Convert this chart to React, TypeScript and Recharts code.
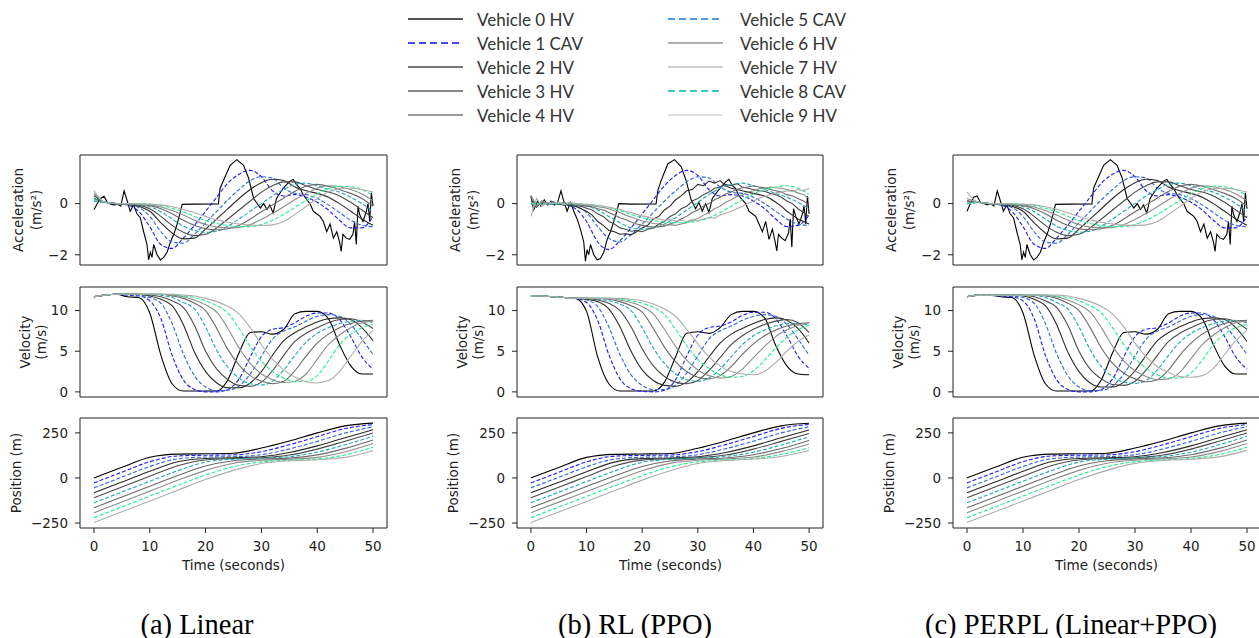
import React from "react";
import { LineChart, Line, XAxis, YAxis, ReferenceArea } from "recharts";

// time grids (seconds)
const T1 = [0, 1, 2, 3, 4, 5, 6, 7, 8, 9, 10, 11, 12, 13, 14, 15, 16, 17, 18, 19, 20, 21, 22, 23, 24, 25, 26, 27, 28, 29, 30, 31, 32, 33, 34, 35, 36, 37, 38, 39, 40, 41, 42, 43, 44, 45, 46, 47, 48, 49, 50];
const T2 = [0, 2, 4, 6, 8, 10, 12, 14, 16, 18, 20, 22, 24, 26, 28, 30, 32, 34, 36, 38, 40, 42, 44, 46, 48, 50];
const T5 = [0, 5, 10, 15, 20, 25, 30, 35, 40, 45, 50];

const VEHICLES = [
  "Vehicle 0 HV", "Vehicle 1 CAV", "Vehicle 2 HV", "Vehicle 3 HV", "Vehicle 4 HV",
  "Vehicle 5 CAV", "Vehicle 6 HV", "Vehicle 7 HV", "Vehicle 8 CAV", "Vehicle 9 HV",
];
const LEGEND_COLORS = ["#555", "#4747ff", "#777", "#888", "#999", "#4a9be0", "#b0b0b0", "#cfcfcf", "#3cc6c0", "#e0e0e0"];
const LEGEND_DASHED = [false, true, false, false, false, true, false, false, true, false];

// colours as they appear inside the plots
const PLOT_COLORS = ["#000000", "#1a1aff", "#2f66dd", "#2a2a2a", "#4a4a4a", "#19a8b0", "#6a6a6a", "#8c8c8c", "#22ee8c", "#adadad"];
const PLOT_DASHED = [false, true, true, false, false, true, false, false, true, false];

const CAPTIONS = ["(a) Linear", "(b) RL (PPO)", "(c) PERPL (Linear+PPO)"];

// ---- (a) Linear ----
const linearLeadAcc: [number, number][] = [
  [0, -0.24], [0.6, 0.0], [1.2, 0.2], [1.8, 0.29], [2.4, 0.05], [3, -0.02], [3.6, -0.05], [4.2, -0.03], [4.8, -0.1],
  [5.4, 0.5], [5.9, 0.15], [6.5, -0.3], [7.1, -0.05], [7.7, -0.4], [8.3, -0.55], [8.9, -1.1], [9.5, -1.6], [9.8, -2.2],
  [10.1, -1.9], [10.4, -2.1], [10.7, -1.6], [11.3, -2.0], [11.9, -2.2], [12.5, -2.1], [13.1, -1.9], [13.7, -1.5],
  [14.3, -1.2], [14.9, -0.8], [15.5, -0.3], [15.8, -0.03], [18, -0.02], [22.3, -0.01], [22.6, 0.6], [23.2, 0.9],
  [24.4, 1.5], [25.6, 1.72], [26.8, 1.5], [27.7, 1.0], [28.6, 0.2], [29.8, -0.17], [30.4, 0.0], [31, -0.23],
  [31.5, -0.05], [32.1, -0.37], [32.7, 0.2], [33.9, 0.6], [35.1, 0.88], [35.7, 0.94], [36.3, 0.74], [36.9, 0.6],
  [37.5, 0.35], [38.1, 0.16], [38.7, 0.0], [39.3, -0.3], [40.5, -0.5], [41.1, -0.7], [41.7, -1.1], [42.3, -0.8],
  [42.9, -1.35], [43.5, -1.1], [44, -1.5], [44.3, -1.87], [44.6, -1.2], [45.2, -1.35], [45.8, -1.4], [46.4, -1.2],
  [46.7, -0.7], [47, -1.6], [47.3, -0.1], [47.6, -0.43], [48.2, -0.7], [48.8, -0.3], [49.1, 0.0], [49.4, -0.7],
  [49.7, 0.42], [50, -0.1],
];
const linearAcc = [
  [0.1, 0.05, 0.0, -0.05, -0.3, -0.9, -1.6, -1.75, -1.35, -0.85, -0.3, 0.25, 0.8, 1.15, 1.3, 1.05, 0.5, 0.3, 0.35, 0.25, 0.05, -0.25, -0.65, -0.95, -0.95, -0.5],
  [0.1, 0.05, 0.0, -0.05, -0.15, -0.5, -1.1, -1.5, -1.55, -1.2, -0.75, -0.3, 0.15, 0.55, 0.9, 1.05, 1.0, 0.6, 0.4, 0.35, 0.2, -0.05, -0.35, -0.65, -0.85, -0.9],
  [0.2, 0.05, 0.0, -0.03, -0.1, -0.3, -0.75, -1.15, -1.38, -1.35, -1.0, -0.6, -0.2, 0.2, 0.55, 0.82, 0.95, 0.9, 0.65, 0.5, 0.4, 0.25, 0.0, -0.3, -0.6, -0.85],
  [0.3, 0.05, 0.0, -0.02, -0.06, -0.2, -0.5, -0.85, -1.12, -1.25, -1.2, -0.95, -0.6, -0.25, 0.1, 0.45, 0.7, 0.85, 0.85, 0.7, 0.55, 0.45, 0.3, 0.05, -0.25, -0.55],
  [0.2, 0.05, 0.0, -0.02, -0.04, -0.12, -0.32, -0.6, -0.88, -1.05, -1.12, -1.08, -0.88, -0.6, -0.3, 0.0, 0.3, 0.55, 0.75, 0.8, 0.7, 0.55, 0.45, 0.25, 0.0, -0.3],
  [0.35, 0.05, 0.0, -0.01, -0.03, -0.08, -0.2, -0.4, -0.65, -0.85, -0.98, -1.02, -0.98, -0.85, -0.6, -0.32, -0.05, 0.22, 0.48, 0.68, 0.75, 0.68, 0.55, 0.4, 0.2, -0.1],
  [0.4, 0.05, 0.0, -0.01, -0.02, -0.05, -0.13, -0.27, -0.45, -0.65, -0.82, -0.92, -0.95, -0.93, -0.82, -0.62, -0.38, -0.12, 0.15, 0.4, 0.6, 0.7, 0.66, 0.55, 0.38, 0.12],
  [0.1, 0.05, 0.0, 0.0, -0.01, -0.03, -0.08, -0.18, -0.32, -0.5, -0.66, -0.78, -0.86, -0.9, -0.9, -0.82, -0.65, -0.42, -0.15, 0.12, 0.38, 0.58, 0.68, 0.66, 0.55, 0.32],
  [0.5, 0.05, 0.0, 0.0, -0.01, -0.02, -0.05, -0.12, -0.22, -0.36, -0.5, -0.63, -0.73, -0.8, -0.84, -0.85, -0.83, -0.7, -0.42, -0.12, 0.2, 0.45, 0.58, 0.6, 0.55, 0.45],
];
const linearVel = [
  [11.7, 11.9, 12.0, 11.7, 11.6, 9.7, 4.5, 1.0, 0.1, 0.1, 0.1, 0.1, 1.5, 4.8, 7.3, 7.4, 7.1, 7.7, 9.6, 9.9, 9.9, 9.0, 5.8, 3.2, 2.2, 2.2],
  [11.7, 11.9, 12.0, 11.9, 11.8, 11.2, 9.0, 4.5, 1.5, 0.3, 0.0, 0.0, 0.3, 1.6, 4.3, 6.8, 7.7, 7.9, 8.5, 9.3, 9.7, 9.7, 8.9, 6.8, 4.3, 2.8],
  [11.7, 11.9, 12.0, 12.0, 11.9, 11.6, 10.9, 8.4, 4.7, 2.0, 0.6, 0.15, 0.2, 0.7, 2.2, 4.4, 6.5, 7.5, 8.0, 8.7, 9.3, 9.5, 9.3, 8.3, 6.5, 4.6],
  [11.7, 11.9, 12.0, 12.0, 12.0, 11.8, 11.4, 10.6, 8.3, 4.9, 2.5, 1.1, 0.5, 0.5, 1.1, 2.5, 4.5, 6.3, 7.3, 8.0, 8.6, 9.0, 9.1, 8.9, 7.9, 6.3],
  [11.7, 11.9, 12.0, 12.0, 12.0, 11.9, 11.7, 11.2, 10.4, 8.2, 5.0, 2.8, 1.5, 0.8, 0.7, 1.2, 2.6, 4.5, 6.2, 7.2, 7.9, 8.5, 8.9, 9.0, 8.6, 7.8],
  [11.7, 11.9, 12.0, 12.0, 12.0, 12.0, 11.9, 11.6, 11.0, 10.2, 8.0, 5.1, 3.0, 1.7, 1.0, 0.85, 1.3, 2.7, 4.5, 6.1, 7.2, 7.9, 8.4, 8.7, 8.8, 8.5],
  [11.7, 11.9, 12.0, 12.0, 12.0, 12.0, 12.0, 11.8, 11.5, 10.9, 10.0, 7.8, 5.2, 3.3, 2.0, 1.3, 1.0, 1.3, 2.6, 4.4, 6.0, 7.1, 7.9, 8.4, 8.7, 8.8],
  [11.7, 11.9, 12.0, 12.0, 12.0, 12.0, 12.0, 11.9, 11.7, 11.3, 10.7, 9.8, 7.8, 5.4, 3.5, 2.2, 1.5, 1.15, 1.3, 2.2, 4.0, 5.8, 7.0, 7.9, 8.5, 8.7],
  [11.7, 11.9, 12.0, 12.0, 12.0, 12.0, 12.0, 12.0, 11.8, 11.6, 11.2, 10.6, 9.7, 7.8, 5.6, 3.8, 2.5, 1.7, 1.25, 1.3, 2.0, 3.8, 5.8, 7.1, 7.9, 8.3],
  [11.7, 11.9, 12.0, 12.0, 12.0, 12.0, 12.0, 12.0, 11.9, 11.8, 11.5, 11.1, 10.5, 9.6, 7.9, 5.8, 4.0, 2.7, 1.8, 1.25, 1.1, 1.4, 2.5, 4.4, 6.2, 7.6],
];
const linearPos = [
  [0, 59, 115, 132, 134, 137, 166, 205, 250, 289, 304],
  [-27.5, 32, 90, 122, 126, 128, 146, 184, 229, 274, 296],
  [-55, 4.5, 64, 106, 116, 118, 129, 161, 203, 249, 284],
  [-82.5, -23, 37, 90, 108, 112, 118, 141, 178, 223, 267],
  [-110, -50.5, 9.5, 68, 100, 108, 112, 127, 160, 204, 249],
  [-137.5, -78, -18, 40, 88, 104, 110, 118, 143, 184, 231],
  [-165, -105.5, -45.5, 13.5, 66, 95, 105, 110, 128, 164, 211],
  [-192.5, -133, -73, -13, 42, 82, 98, 104, 114, 145, 191],
  [-220, -160.5, -100.5, -41, 16, 63, 89, 98, 105, 128, 170],
  [-247.5, -188, -128, -68, -9, 42, 80, 95, 101, 114, 151],
];

// ---- (b) RL (PPO) ----
const ppoLeadAcc: [number, number][] = [
  [0, 0.3], [0.5, -0.25], [1.2, 0.1], [1.8, -0.1], [2.4, 0.15], [3, -0.05], [3.6, 0.1], [4.2, -0.05], [4.8, 0.05],
  [5.4, 0.5], [5.9, 0.1], [6.5, -0.3], [7.1, 0.05], [7.7, -0.3], [8.3, -0.6], [8.9, -1.0], [9.5, -1.5], [9.8, -2.25],
  [10.1, -1.8], [10.4, -2.0], [10.7, -1.6], [11.3, -2.0], [11.9, -2.2], [12.5, -2.15], [13.1, -1.9], [13.7, -1.4],
  [14.3, -1.1], [14.9, -0.7], [15.5, -0.25], [15.8, 0.0], [18, -0.02], [22.5, -0.01], [22.8, 0.5], [23.4, 0.9],
  [24.6, 1.55], [25.8, 1.72], [27, 1.45], [27.9, 0.9], [28.8, 0.15], [29.6, -0.2], [30.2, 0.05], [30.8, -0.3],
  [31.4, 0.0], [32, -0.35], [32.6, 0.2], [33.8, 0.55], [35, 0.85], [35.6, 0.95], [36.2, 0.7], [36.8, 0.6],
  [37.4, 0.3], [38, 0.15], [38.6, 0.0], [39.2, -0.3], [40.4, -0.5], [41, -0.8], [41.6, -1.1], [42.2, -0.7],
  [42.8, -1.4], [43.4, -1.0], [43.9, -1.5], [44.2, -1.85], [44.5, -1.2], [45.1, -1.35], [45.7, -1.45], [46.3, -1.15],
  [46.6, -0.6], [46.9, -1.7], [47.2, -0.2], [47.6, -0.5], [48.2, -0.8], [48.8, -0.4], [49.1, -0.1], [49.4, -0.8],
  [49.7, 0.3], [50, -0.4],
];
// CAV vehicles 1, 2, 5, 8 on the 2 s grid
const ppoAccCav = [
  [0.0, 0.0, -0.02, -0.05, -0.2, -0.7, -1.5, -1.8, -1.45, -0.95, -0.4, 0.15, 0.7, 1.1, 1.3, 1.1, 0.55, 0.3, 0.35, 0.3, 0.1, -0.2, -0.6, -0.9, -0.85, -0.45],
  [0.0, 0.0, -0.02, -0.04, -0.1, -0.35, -0.9, -1.35, -1.5, -1.2, -0.8, -0.35, 0.1, 0.5, 0.85, 1.05, 1.0, 0.65, 0.45, 0.4, 0.25, 0.0, -0.3, -0.6, -0.8, -0.85],
  [0.0, 0.0, 0.0, -0.02, -0.05, -0.1, -0.25, -0.5, -0.75, -0.95, -1.0, -0.95, -0.8, -0.55, -0.25, 0.05, 0.35, 0.6, 0.75, 0.8, 0.7, 0.55, 0.4, 0.25, 0.05, -0.2],
  [0.0, 0.0, 0.0, 0.0, -0.01, -0.03, -0.07, -0.15, -0.28, -0.42, -0.55, -0.66, -0.72, -0.75, -0.74, -0.68, -0.55, -0.35, -0.1, 0.15, 0.38, 0.55, 0.65, 0.7, 0.6, 0.35],
];
// HV vehicles 3, 4, 6, 7, 9 on the 1 s grid (noisier)
const ppoAccHv = [
  [0.3, -0.1, 0.05, -0.05, 0.08, -0.04, 0.02, -0.08, -0.1, -0.2, -0.3, -0.45, -0.7, -0.85, -1.05, -1.1, -1.2, -1.18, -1.22, -1.1, -0.95, -0.85, -0.6, -0.5, -0.25, -0.1, 0.15, 0.3, 0.5, 0.55, 0.75, 0.7, 0.88, 0.8, 0.9, 0.7, 0.6, 0.55, 0.5, 0.45, 0.4, 0.35, 0.3, 0.2, 0.05, -0.1, -0.3, -0.45, -0.6, -0.7, -0.8],
  [0.2, -0.15, 0.1, -0.05, 0.05, 0.0, -0.06, 0.04, -0.08, -0.1, -0.18, -0.25, -0.4, -0.5, -0.7, -0.8, -0.95, -1.0, -1.08, -1.05, -1.1, -1.0, -0.95, -0.8, -0.7, -0.5, -0.4, -0.2, -0.1, 0.1, 0.2, 0.35, 0.45, 0.6, 0.65, 0.75, 0.7, 0.78, 0.65, 0.6, 0.55, 0.5, 0.48, 0.4, 0.35, 0.25, 0.1, 0.0, -0.2, -0.35, -0.5],
  [0.1, -0.1, 0.05, 0.0, 0.08, -0.03, 0.05, -0.05, 0.0, -0.06, -0.1, -0.12, -0.2, -0.25, -0.35, -0.45, -0.55, -0.62, -0.72, -0.8, -0.85, -0.9, -0.92, -0.9, -0.88, -0.8, -0.72, -0.6, -0.5, -0.35, -0.25, -0.1, 0.0, 0.15, 0.25, 0.38, 0.45, 0.55, 0.62, 0.65, 0.7, 0.65, 0.62, 0.55, 0.5, 0.45, 0.35, 0.3, 0.2, 0.1, -0.05],
  [0.3, -0.1, 0.1, -0.05, 0.05, 0.02, -0.04, 0.06, -0.03, -0.02, -0.06, -0.08, -0.12, -0.15, -0.2, -0.28, -0.35, -0.45, -0.52, -0.6, -0.68, -0.72, -0.78, -0.8, -0.85, -0.82, -0.85, -0.8, -0.75, -0.65, -0.58, -0.45, -0.35, -0.2, -0.1, 0.05, 0.15, 0.28, 0.35, 0.45, 0.5, 0.58, 0.6, 0.65, 0.62, 0.6, 0.55, 0.5, 0.42, 0.35, 0.2],
  [-0.5, 0.2, -0.1, 0.05, 0.0, 0.06, -0.03, 0.04, 0.0, -0.02, -0.03, -0.05, -0.08, -0.1, -0.14, -0.18, -0.22, -0.3, -0.35, -0.42, -0.48, -0.52, -0.58, -0.6, -0.65, -0.62, -0.68, -0.65, -0.7, -0.62, -0.68, -0.6, -0.55, -0.58, -0.45, -0.38, -0.3, -0.2, -0.1, 0.0, 0.1, 0.2, 0.28, 0.35, 0.42, 0.45, 0.5, 0.48, 0.55, 0.5, 0.6],
];
const ppoVel = [
  [11.8, 11.8, 11.7, 11.6, 11.5, 9.9, 4.3, 1.0, 0.1, 0.1, 0.1, 0.1, 1.2, 4.3, 7.2, 7.4, 7.2, 7.9, 9.5, 9.9, 9.9, 9.1, 5.7, 3.2, 2.2, 2.1],
  [11.8, 11.8, 11.7, 11.6, 11.5, 11.0, 8.8, 4.6, 1.6, 0.4, 0.05, 0.0, 0.2, 1.5, 4.4, 7.0, 7.9, 8.1, 8.6, 9.4, 9.8, 9.8, 9.0, 6.9, 4.4, 2.9],
  [11.8, 11.8, 11.7, 11.6, 11.5, 11.3, 10.5, 8.0, 4.6, 2.1, 0.8, 0.3, 0.3, 0.8, 2.3, 4.4, 6.5, 7.5, 8.1, 8.8, 9.3, 9.5, 9.3, 8.3, 6.5, 4.5],
  [11.8, 11.8, 11.7, 11.6, 11.5, 11.4, 11.1, 10.2, 8.0, 5.0, 2.7, 1.4, 0.8, 0.7, 1.2, 2.5, 4.3, 6.0, 7.1, 7.8, 8.4, 8.9, 9.1, 8.8, 7.8, 6.0],
  [11.8, 11.8, 11.7, 11.6, 11.5, 11.5, 11.3, 10.9, 10.0, 8.0, 5.3, 3.2, 1.9, 1.2, 1.0, 1.4, 2.6, 4.2, 5.8, 6.9, 7.7, 8.3, 8.7, 8.9, 8.5, 7.3],
  [11.8, 11.8, 11.7, 11.6, 11.5, 11.5, 11.4, 11.2, 10.8, 10.0, 7.9, 5.4, 3.5, 2.2, 1.5, 1.3, 1.7, 2.8, 4.3, 5.8, 6.9, 7.6, 8.1, 8.4, 8.4, 8.2],
  [11.8, 11.8, 11.7, 11.6, 11.5, 11.5, 11.5, 11.4, 11.1, 10.6, 9.8, 7.8, 5.5, 3.7, 2.5, 1.8, 1.6, 2.0, 3.1, 4.6, 5.9, 6.9, 7.6, 8.1, 8.4, 8.5],
  [11.8, 11.8, 11.7, 11.6, 11.5, 11.5, 11.5, 11.5, 11.3, 11.0, 10.5, 9.6, 7.7, 5.6, 3.9, 2.7, 2.0, 1.7, 1.9, 2.8, 4.2, 5.6, 6.8, 7.6, 8.2, 8.5],
  [11.8, 11.8, 11.7, 11.6, 11.5, 11.5, 11.5, 11.5, 11.4, 11.2, 10.9, 10.4, 9.5, 7.7, 5.7, 4.0, 2.9, 2.1, 1.8, 1.9, 2.6, 3.9, 5.4, 6.7, 7.6, 8.2],
  [11.8, 11.8, 11.7, 11.6, 11.5, 11.5, 11.5, 11.5, 11.5, 11.4, 11.2, 10.8, 10.2, 9.3, 7.7, 5.9, 4.3, 3.2, 2.5, 2.2, 2.1, 2.5, 3.6, 5.0, 6.2, 7.0],
];
const ppoPos = [
  [0, 58, 114, 131, 133, 136, 165, 205, 250, 289, 303],
  [-27.5, 31, 89, 121, 125, 127, 146, 185, 230, 275, 297],
  [-55, 3.5, 62, 104, 115, 117, 129, 162, 204, 250, 284],
  [-82.5, -24, 35, 88, 107, 111, 118, 141, 178, 223, 266],
  [-110, -51.5, 7.5, 66, 99, 107, 112, 127, 160, 203, 247],
  [-137.5, -79, -20, 38, 87, 103, 110, 119, 143, 183, 228],
  [-165, -106.5, -47.5, 11, 64, 94, 105, 111, 129, 163, 208],
  [-192.5, -134, -75, -16, 40, 81, 98, 105, 116, 146, 188],
  [-220, -161.5, -102.5, -44, 13, 61, 89, 100, 108, 130, 168],
  [-247.5, -189, -130, -71, -12, 40, 80, 97, 105, 119, 152],
];

// ---- (c) PERPL (Linear+PPO) ----
const perplLeadAcc: [number, number][] = [
  [0, -0.3], [0.6, 0.0], [1.2, 0.25], [1.8, 0.3], [2.4, 0.05], [3, 0.0], [3.6, -0.05], [4.2, 0.0], [4.8, -0.1],
  [5.4, 0.5], [5.9, 0.15], [6.5, -0.3], [7.1, -0.05], [7.7, -0.4], [8.3, -0.55], [8.9, -1.1], [9.5, -1.6], [9.8, -2.2],
  [10.1, -1.9], [10.4, -2.1], [10.7, -1.6], [11.3, -2.0], [11.9, -2.2], [12.5, -2.1], [13.1, -1.9], [13.7, -1.5],
  [14.3, -1.2], [14.9, -0.8], [15.5, -0.3], [15.8, -0.03], [18, -0.02], [22.3, -0.01], [22.6, 0.6], [23.2, 0.9],
  [24.4, 1.5], [25.6, 1.72], [26.8, 1.5], [27.7, 1.0], [28.6, 0.2], [29.8, -0.17], [30.4, 0.0], [31, -0.23],
  [31.5, -0.05], [32.1, -0.37], [32.7, 0.2], [33.9, 0.6], [35.1, 0.88], [35.7, 0.94], [36.3, 0.74], [36.9, 0.6],
  [37.5, 0.35], [38.1, 0.16], [38.7, 0.0], [39.3, -0.3], [40.5, -0.5], [41.1, -0.7], [41.7, -1.1], [42.3, -0.8],
  [42.9, -1.35], [43.5, -1.1], [44, -1.5], [44.3, -1.87], [44.6, -1.2], [45.2, -1.35], [45.8, -1.4], [46.4, -1.2],
  [46.7, -0.7], [47, -1.6], [47.3, -0.1], [47.6, -0.43], [48.2, -0.7], [48.8, -0.3], [49.1, 0.0], [49.4, -0.7],
  [49.7, 0.42], [50, -0.2],
];
const perplAcc = [
  [0.0, 0.05, 0.0, -0.05, -0.3, -0.9, -1.6, -1.75, -1.35, -0.85, -0.3, 0.25, 0.8, 1.15, 1.3, 1.05, 0.5, 0.3, 0.35, 0.25, 0.05, -0.25, -0.65, -0.95, -0.95, -0.5],
  [0.0, 0.05, 0.0, -0.05, -0.15, -0.5, -1.1, -1.5, -1.55, -1.2, -0.75, -0.3, 0.15, 0.55, 0.9, 1.05, 1.0, 0.6, 0.4, 0.35, 0.2, -0.05, -0.35, -0.65, -0.85, -0.9],
  [0.1, 0.05, 0.0, -0.03, -0.1, -0.3, -0.75, -1.15, -1.38, -1.35, -1.0, -0.6, -0.2, 0.2, 0.55, 0.82, 0.95, 0.9, 0.65, 0.5, 0.4, 0.25, 0.0, -0.3, -0.6, -0.85],
  [0.1, 0.05, 0.0, -0.02, -0.06, -0.2, -0.5, -0.85, -1.12, -1.25, -1.2, -0.95, -0.6, -0.25, 0.1, 0.45, 0.7, 0.85, 0.85, 0.7, 0.55, 0.45, 0.3, 0.05, -0.25, -0.55],
  [0.0, 0.05, 0.0, -0.02, -0.04, -0.12, -0.32, -0.6, -0.88, -1.05, -1.12, -1.08, -0.88, -0.6, -0.3, 0.0, 0.3, 0.55, 0.75, 0.8, 0.7, 0.55, 0.45, 0.25, 0.0, -0.3],
  [0.1, 0.05, 0.0, -0.01, -0.03, -0.08, -0.2, -0.4, -0.65, -0.85, -0.98, -1.02, -0.98, -0.85, -0.6, -0.32, -0.05, 0.22, 0.48, 0.68, 0.75, 0.68, 0.55, 0.4, 0.2, -0.1],
  [0.2, 0.05, 0.0, -0.01, -0.02, -0.05, -0.13, -0.27, -0.45, -0.65, -0.82, -0.92, -0.95, -0.93, -0.82, -0.62, -0.38, -0.12, 0.15, 0.4, 0.6, 0.7, 0.66, 0.55, 0.38, 0.12],
  [0.0, 0.05, 0.0, 0.0, -0.01, -0.03, -0.08, -0.18, -0.32, -0.5, -0.66, -0.78, -0.86, -0.9, -0.9, -0.82, -0.65, -0.42, -0.15, 0.12, 0.38, 0.58, 0.68, 0.66, 0.55, 0.32],
  [0.45, 0.05, 0.0, 0.0, -0.01, -0.02, -0.05, -0.12, -0.22, -0.36, -0.5, -0.63, -0.73, -0.8, -0.84, -0.85, -0.83, -0.7, -0.42, -0.12, 0.2, 0.45, 0.58, 0.6, 0.55, 0.45],
];
const perplVel = [
  [11.7, 11.9, 11.9, 11.7, 11.6, 9.7, 4.5, 1.0, 0.1, 0.1, 0.1, 0.1, 1.5, 4.8, 7.3, 7.4, 7.1, 7.7, 9.6, 9.9, 9.9, 9.0, 5.8, 3.2, 2.2, 2.2],
  [11.7, 11.9, 11.9, 11.8, 11.7, 11.2, 9.0, 4.5, 1.5, 0.3, 0.0, 0.0, 0.3, 1.6, 4.3, 6.8, 7.7, 7.9, 8.5, 9.3, 9.7, 9.7, 8.9, 6.8, 4.3, 2.8],
  [11.7, 11.9, 11.9, 11.9, 11.8, 11.6, 10.9, 8.4, 4.7, 2.0, 0.6, 0.15, 0.2, 0.7, 2.2, 4.4, 6.5, 7.5, 8.0, 8.7, 9.3, 9.5, 9.3, 8.3, 6.5, 4.6],
  [11.7, 11.9, 11.9, 11.9, 11.9, 11.8, 11.4, 10.6, 8.3, 4.9, 2.5, 1.1, 0.6, 0.6, 1.2, 2.6, 4.5, 6.3, 7.3, 8.0, 8.6, 9.0, 9.1, 8.9, 7.9, 6.2],
  [11.7, 11.9, 11.9, 11.9, 11.9, 11.9, 11.7, 11.2, 10.4, 8.2, 5.0, 2.8, 1.6, 0.9, 0.8, 1.3, 2.7, 4.5, 6.2, 7.2, 7.9, 8.5, 8.9, 9.0, 8.6, 7.7],
  [11.7, 11.9, 11.9, 11.9, 11.9, 11.9, 11.9, 11.6, 11.0, 10.2, 8.0, 5.2, 3.1, 1.9, 1.2, 1.05, 1.4, 2.7, 4.5, 6.1, 7.2, 7.9, 8.4, 8.7, 8.8, 8.5],
  [11.7, 11.9, 11.9, 11.9, 11.9, 11.9, 11.9, 11.8, 11.5, 10.9, 10.0, 7.9, 5.4, 3.5, 2.3, 1.6, 1.25, 1.5, 2.7, 4.5, 6.0, 7.1, 7.9, 8.4, 8.7, 8.8],
  [11.7, 11.9, 11.9, 11.9, 11.9, 11.9, 11.9, 11.9, 11.7, 11.3, 10.7, 9.8, 7.9, 5.6, 3.8, 2.6, 1.9, 1.5, 1.6, 2.4, 4.1, 5.8, 7.0, 7.9, 8.5, 8.7],
  [11.7, 11.9, 11.9, 11.9, 11.9, 11.9, 11.9, 11.9, 11.8, 11.6, 11.2, 10.6, 9.7, 7.9, 5.8, 4.1, 2.9, 2.1, 1.7, 1.7, 2.3, 3.9, 5.8, 7.1, 7.9, 8.3],
  [11.7, 11.9, 11.9, 11.9, 11.9, 11.9, 11.9, 11.9, 11.9, 11.8, 11.5, 11.1, 10.5, 9.6, 8.0, 6.0, 4.3, 3.1, 2.4, 1.9, 1.8, 2.0, 2.9, 4.6, 6.3, 7.6],
];
const perplPos = [
  [0, 59, 115, 132, 134, 137, 166, 205, 250, 289, 304],
  [-27.5, 32, 90, 122, 126, 128, 146, 184, 229, 274, 296],
  [-55, 4.5, 64, 106, 116, 118, 129, 161, 203, 249, 284],
  [-82.5, -23, 37, 90, 108, 112, 118, 141, 178, 223, 267],
  [-110, -50.5, 9.5, 68, 100, 108, 112, 127, 160, 204, 249],
  [-137.5, -78, -18, 40, 88, 104, 111, 119, 143, 184, 231],
  [-165, -105.5, -45.5, 13.5, 66, 95, 106, 112, 129, 164, 211],
  [-192.5, -133, -73, -13, 42, 82, 99, 106, 116, 146, 191],
  [-220, -160.5, -100.5, -41, 16, 63, 90, 100, 108, 130, 170],
  [-247.5, -188, -128, -68, -9, 42, 81, 97, 104, 117, 153],
];

const ACC_DOMAIN = [-2.4, 1.9];
const VEL_DOMAIN = [-0.63, 12.9];
const POS_DOMAIN = [-277.5, 332.5];

const FONT = "DejaVu Sans, sans-serif";
const TICK_STYLE = { fontFamily: FONT, fontSize: 13.5, fill: "#222" };

const fmt = (v: number) => (v < 0 ? "\u2212" + Math.abs(v) : String(v));

type Pt = { t: number; y: number };
type Series = { pts: Pt[]; linear: boolean };

const pts = (times: number[], vals: number[]): Pt[] => vals.map((y, i) => ({ t: times[i], y }));
const pairs = (p: [number, number][]): Pt[] => p.map(([t, y]) => ({ t, y }));
const smooth = (times: number[], rows: number[][]): Series[] => rows.map((r) => ({ pts: pts(times, r), linear: false }));

function Subplot({
  left, top, width, series, domain, ticks, showTimeLabels,
}: {
  left: number; top: number; width: number; series: Series[]; domain: number[];
  ticks: number[]; showTimeLabels: boolean;
}) {
  return (
    <div style={{ position: "absolute", left: left - 80, top: top - 5 }}>
      <LineChart width={80 + width + 10} height={155} margin={{ top: 5, right: 10, left: 40, bottom: 0 }}>
        <XAxis
          type="number"
          dataKey="t"
          domain={[-2.5, 52.5]}
          ticks={[0, 10, 20, 30, 40, 50]}
          allowDataOverflow
          axisLine={false}
          tickLine={{ stroke: "#222" }}
          tickSize={5}
          tickMargin={8}
          tick={showTimeLabels ? TICK_STYLE : false}
          height={40}
        />
        <YAxis
          type="number"
          domain={domain}
          ticks={ticks}
          allowDataOverflow
          axisLine={false}
          tickLine={{ stroke: "#222" }}
          tickSize={5}
          tickMargin={7}
          tick={TICK_STYLE}
          tickFormatter={fmt}
          width={40}
        />
        {series.map((s, i) => (
          <Line
            key={i}
            data={s.pts}
            dataKey="y"
            type={s.linear ? "linear" : "monotone"}
            stroke={PLOT_COLORS[i]}
            strokeWidth={1.1}
            strokeDasharray={PLOT_DASHED[i] ? "4 2" : undefined}
            dot={false}
            isAnimationActive={false}
          />
        ))}
        <ReferenceArea x1={-2.5} x2={52.5} y1={domain[0]} y2={domain[1]} fill="none" fillOpacity={0} stroke="#222" strokeWidth={1} />
      </LineChart>
    </div>
  );
}

const linearAccSeries: Series[] = [{ pts: pairs(linearLeadAcc), linear: true }, ...smooth(T2, linearAcc)];
const perplAccSeries: Series[] = [{ pts: pairs(perplLeadAcc), linear: true }, ...smooth(T2, perplAcc)];
const hv = (i: number): Series => ({ pts: pts(T1, ppoAccHv[i]), linear: true });
const cav = (i: number): Series => ({ pts: pts(T2, ppoAccCav[i]), linear: false });
const ppoAccSeries: Series[] = [
  { pts: pairs(ppoLeadAcc), linear: true }, cav(0), cav(1), hv(0), hv(1), cav(2), hv(2), hv(3), cav(3), hv(4),
];

const COLUMNS = [
  { box: 80, width: 307, acc: linearAccSeries, vel: linearVel, pos: linearPos, caption: 197 },
  { box: 517, width: 306, acc: ppoAccSeries, vel: ppoVel, pos: ppoPos, caption: 635 },
  { box: 953, width: 308, acc: perplAccSeries, vel: perplVel, pos: perplPos, caption: 1071 },
];

export default function App() {
  const rowsY = [210, 342, 473];
  return (
    <div style={{ position: "absolute", left: 0, top: 0, width: 1259, height: 638, overflow: "hidden", background: "#fff" }}>
      {COLUMNS.map((c, k) => (
        <React.Fragment key={k}>
          <Subplot left={c.box} top={155} width={c.width} series={c.acc} domain={ACC_DOMAIN} ticks={[-2, 0]} showTimeLabels={false} />
          <Subplot left={c.box} top={287} width={c.width} series={smooth(T2, c.vel)} domain={VEL_DOMAIN} ticks={[0, 5, 10]} showTimeLabels={false} />
          <Subplot left={c.box} top={418} width={c.width} series={smooth(T5, c.pos)} domain={POS_DOMAIN} ticks={[-250, 0, 250]} showTimeLabels />
        </React.Fragment>
      ))}
      <svg width={1259} height={638} style={{ position: "absolute", left: 0, top: 0, pointerEvents: "none" }}>
        {VEHICLES.map((name, i) => {
          const col = i < 5 ? 0 : 1;
          const row = i % 5;
          const y = 19 + row * 24;
          const x1 = col === 0 ? 408 : 668;
          const tx = col === 0 ? 477 : 740;
          return (
            <g key={name}>
              <line x1={x1} x2={x1 + 55} y1={y} y2={y} stroke={LEGEND_COLORS[i]} strokeWidth={2.2} strokeDasharray={LEGEND_DASHED[i] ? "7 4" : undefined} />
              <text x={tx} y={y} dominantBaseline="central" fontFamily="Lato, sans-serif" fontSize={17} fill="#333">{name}</text>
            </g>
          );
        })}
        {COLUMNS.map((c, k) => (
          <g key={k} fontFamily={FONT} fontSize={13.5} fill="#222" textAnchor="middle">
            <text transform={`translate(${c.box - 62},${rowsY[0]}) rotate(-90)`} dominantBaseline="central">Acceleration</text>
            <text transform={`translate(${c.box - 44},${rowsY[0]}) rotate(-90)`} dominantBaseline="central">(m/s²)</text>
            <text transform={`translate(${c.box - 55},${rowsY[1]}) rotate(-90)`} dominantBaseline="central">Velocity</text>
            <text transform={`translate(${c.box - 39},${rowsY[1]}) rotate(-90)`} dominantBaseline="central">(m/s)</text>
            <text transform={`translate(${c.box - 64},${rowsY[2]}) rotate(-90)`} dominantBaseline="central">Position (m)</text>
            <text x={c.box + 153.5} y={565} dominantBaseline="central">Time (seconds)</text>
            <text x={c.caption} y={624} dominantBaseline="central" fontFamily="Liberation Serif, serif" fontSize={28.5} fill="#000">{CAPTIONS[k]}</text>
          </g>
        ))}
      </svg>
    </div>
  );
}
